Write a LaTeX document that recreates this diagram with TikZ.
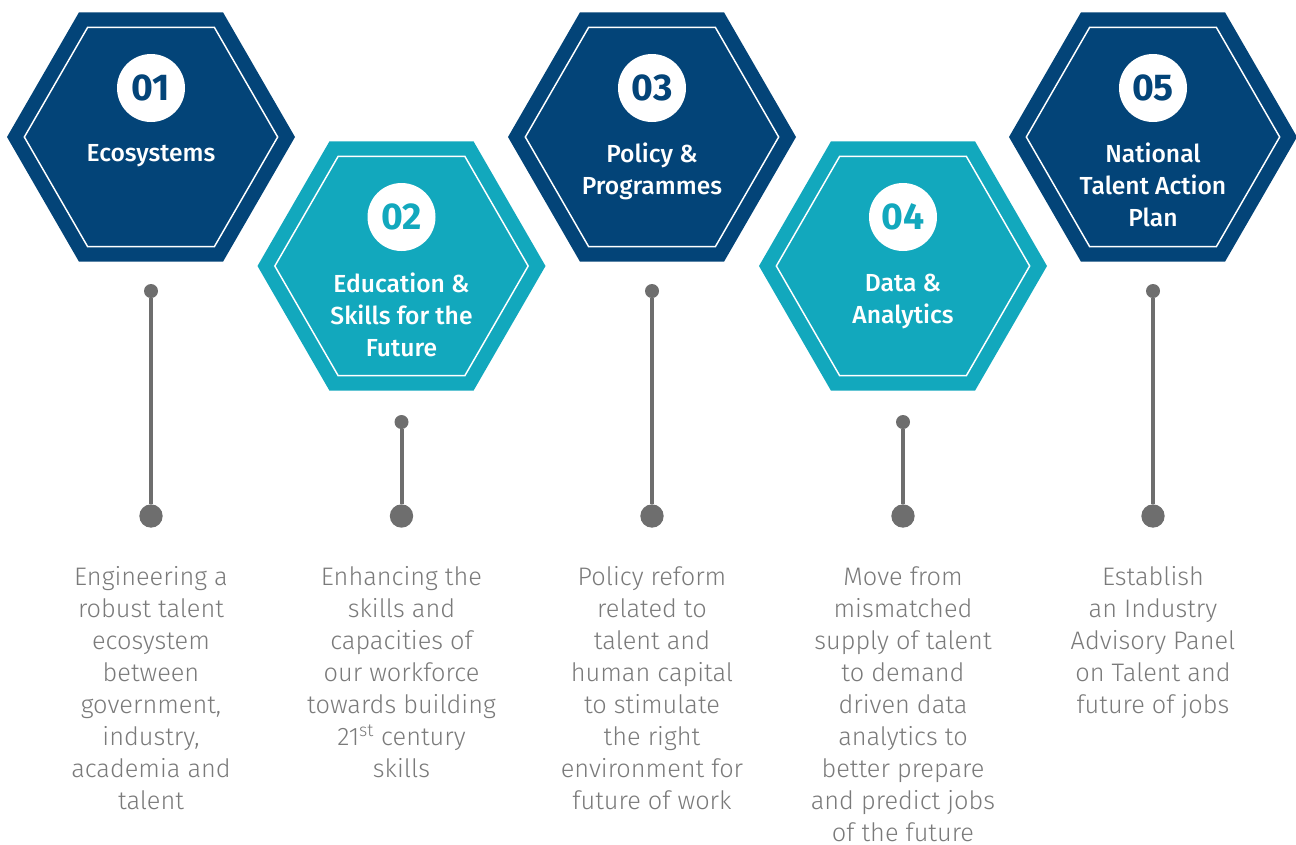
\documentclass[tikz,border=0pt]{standalone}
\usepackage{fontspec}
\setmainfont{Fira Sans}
\newfontfamily\medfont{Fira Sans Medium}
\newfontfamily\lightfont{Fira Sans Light}
\usetikzlibrary{shapes.geometric}
\definecolor{hexblue}{HTML}{034478}
\definecolor{hexteal}{HTML}{12A8BD}
\definecolor{stemgray}{HTML}{6E6E6E}
\definecolor{textgray}{HTML}{7A7A7A}

\begin{document}
\begin{tikzpicture}[x=0.75pt,y=-0.75pt,
  hexout/.style={regular polygon, regular polygon sides=6, minimum size=216pt, inner sep=0pt, outer sep=0pt},
  hexin/.style={regular polygon, regular polygon sides=6, minimum size=190pt, inner sep=0pt, draw=white, line width=1.1pt},
  numdot/.style={circle, fill=white, minimum size=51pt, inner sep=0pt, font=\fontsize{28}{28}\selectfont\bfseries},
  hextitle/.style={text=white, align=center, inner sep=0pt, anchor=north, font=\fontsize{18.5}{24}\selectfont\medfont},
  smalldot/.style={circle, fill=stemgray, minimum size=10.5pt, inner sep=0pt},
  bigdot/.style={circle, fill=stemgray, minimum size=17.5pt, inner sep=0pt},
  stem/.style={draw=stemgray, line width=3pt},
  desc/.style={text=textgray, align=center, inner sep=0pt, anchor=north, font=\fontsize{19}{24}\selectfont\lightfont}]
\useasboundingbox (0,0) rectangle (1296,844);

% 01
\node [hexout, fill=hexblue] (h1) at (151,137) {};
\node [hexin] (h1in) at (h1.center) {};
\node [numdot, text=hexblue] (n1) at (151,88) {01};
\node [hextitle] (t1) at (151,144) {Ecosystems};

% 02
\node [hexout, fill=hexteal] (h2) at (401.5,266) {};
\node [hexin] (h2in) at (h2.center) {};
\node [numdot, text=hexteal] (n2) at (401.5,217) {02};
\node [hextitle] (t2) at (401.5,273) {Education \&\\Skills for the\\Future};

% 03
\node [hexout, fill=hexblue] (h3) at (652,137) {};
\node [hexin] (h3in) at (h3.center) {};
\node [numdot, text=hexblue] (n3) at (652,88) {03};
\node [hextitle] (t3) at (652,143) {Policy \&\\Programmes};

% 04
\node [hexout, fill=hexteal] (h4) at (903,266) {};
\node [hexin] (h4in) at (h4.center) {};
\node [numdot, text=hexteal] (n4) at (903,217) {04};
\node [hextitle] (t4) at (903,274) {Data \&\\Analytics};

% 05
\node [hexout, fill=hexblue] (h5) at (1153,137) {};
\node [hexin] (h5in) at (h5.center) {};
\node [numdot, text=hexblue] (n5) at (1153,88) {05};
\node [hextitle] (t5) at (1153,143) {National\\Talent Action\\Plan};

% stems
\node [smalldot] (s1) at (151,291) {};
\node [bigdot] (b1) at (151,516) {};
\draw [stem] (s1) -- (b1);
\node [smalldot] (s2) at (401.5,422) {};
\node [bigdot] (b2) at (401.5,516) {};
\draw [stem] (s2) -- (b2);
\node [smalldot] (s3) at (652,291) {};
\node [bigdot] (b3) at (652,516) {};
\draw [stem] (s3) -- (b3);
\node [smalldot] (s4) at (903,422) {};
\node [bigdot] (b4) at (903,516) {};
\draw [stem] (s4) -- (b4);
\node [smalldot] (s5) at (1153,291) {};
\node [bigdot] (b5) at (1153,516) {};
\draw [stem] (s5) -- (b5);

% descriptions
\node [desc] (d1) at (151,566) {Engineering a\\robust talent\\ecosystem\\between\\government,\\industry,\\academia and\\talent};
\node [desc] (d2) at (401.5,566) {Enhancing the\\skills and\\capacities of\\our workforce\\towards building\\21\textsuperscript{st} century\\skills};
\node [desc] (d3) at (652,566) {Policy reform\\related to\\talent and\\human capital\\to stimulate\\the right\\environment for\\future of work};
\node [desc] (d4) at (903,566) {Move from\\mismatched\\supply of talent\\to demand\\driven data\\analytics to\\better prepare\\and predict jobs\\of the future};
\node [desc] (d5) at (1153,566) {Establish\\an Industry\\Advisory Panel\\on Talent and\\future of jobs};
\end{tikzpicture}
\end{document}
